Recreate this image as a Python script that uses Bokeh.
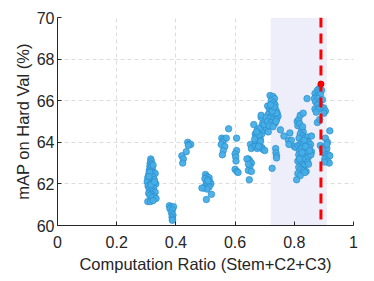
from bokeh.plotting import figure
from bokeh.models import FixedTicker, Range1d, BoxAnnotation, Span
from bokeh.embed import file_html
from bokeh.resources import INLINE

# ---- data ----
x_vals = [
    # cluster ~0.31
    0.315,0.317,0.313,0.318,0.312,0.316,0.320,0.310,0.314,0.325,0.330,0.308,0.318,0.322,0.305,
    0.313,0.327,0.309,0.316,0.303,0.320,0.332,0.311,0.306,0.318,0.325,0.310,0.315,0.322,0.330,
    0.308,0.318,0.312,0.326,0.320,0.333,0.305,0.314,0.323,0.318,0.312,0.323,0.316,0.309,0.328,
    # cluster ~0.385
    0.378,0.385,0.392,0.380,0.388,0.385,0.390,0.387,0.389,0.388,
    # cluster ~0.43
    0.440,0.445,0.450,0.442,0.435,0.420,0.425,0.423,
    # cluster ~0.505
    0.500,0.505,0.512,0.498,0.508,0.515,0.503,0.518,0.510,0.500,0.495,0.512,0.505,0.488,0.520,0.503,0.508,
    # cluster ~0.56
    0.578,0.555,0.562,0.570,0.558,0.553,0.565,0.560,0.557,
    # cluster ~0.605
    0.605,0.605,0.600,0.602,0.603,0.600,0.606,0.610,
    # cluster ~0.65
    0.645,0.650,0.655,0.640,0.650,0.645,0.655,0.648,0.645,0.652,0.660,0.663,0.655,
    # cluster ~0.68
    0.675,0.680,0.668,0.672,0.678,0.685,0.670,0.676,0.682,0.668,0.690,0.675,0.695,0.700,0.686,
    0.690,0.695,0.685,0.700,0.705,0.688,0.688,0.693,0.698,0.681,0.673,0.679,0.666,
    # cluster ~0.725
    0.718,0.728,0.733,0.722,0.730,0.735,0.710,0.716,0.725,0.738,0.720,0.730,0.742,0.712,0.724,
    0.735,0.745,0.705,0.718,0.730,0.740,0.710,0.722,0.734,0.715,0.728,0.712,0.740,0.726,0.732,
    0.720,0.738,0.725,
    # scattered ~0.74-0.79
    0.737,0.738,0.740,0.740,0.753,0.765,0.780,0.785,0.790,0.782,
    # cluster ~0.83
    0.810,0.815,0.820,0.830,0.812,0.818,0.825,0.830,0.820,0.828,0.835,0.816,0.845,0.858,0.800,
    0.805,0.812,0.820,0.826,0.832,0.840,0.848,0.855,0.818,0.825,0.835,0.842,0.850,0.858,0.815,
    0.822,0.830,0.838,0.848,0.856,0.812,0.820,0.828,0.835,0.845,0.815,0.822,0.832,0.840,0.812,
    0.820,0.808,0.836,0.848,0.843,0.826,0.833,0.818,0.852,0.828,0.838,
    # cluster ~0.88 high
    0.885,0.878,0.892,0.870,0.882,0.875,0.888,0.868,0.880,0.895,0.872,0.885,0.878,0.890,0.870,
    0.882,0.874,0.900,0.905,0.900,0.878,0.886,
    # cluster ~0.905 low
    0.905,0.912,0.920,0.888,0.898,0.905,0.910,0.900,0.915,0.908,0.920,0.903,0.912,0.918,0.902,
    0.895,0.910,
]
y_vals = [
    63.2,63.1,63.0,62.95,62.85,62.8,62.7,62.65,62.6,62.55,62.5,62.45,62.4,62.35,62.3,
    62.25,62.2,62.15,62.1,62.1,62.05,62.0,61.95,61.9,61.85,61.8,61.75,61.7,61.65,61.6,
    61.55,61.5,61.45,61.4,61.35,61.3,61.15,61.15,61.2,62.0,62.55,62.9,61.95,62.35,62.1,
    60.95,60.9,60.9,60.8,60.75,60.6,60.5,60.4,60.3,60.25,
    64.0,63.9,63.9,63.85,63.55,63.35,63.2,63.0,
    62.45,62.35,62.3,62.25,62.2,62.1,62.05,62.0,61.95,61.9,61.8,61.85,61.75,61.8,61.5,61.25,62.15,
    64.65,64.2,64.15,64.2,64.0,63.9,63.8,63.6,63.4,
    64.2,63.6,63.45,63.3,63.1,62.7,62.6,62.55,
    63.2,63.1,63.0,63.2,62.85,62.65,62.6,62.2,62.95,63.9,63.8,64.85,63.7,
    64.6,64.5,64.4,64.3,64.2,64.15,64.0,63.95,63.9,63.8,63.75,63.7,63.65,63.6,64.05,
    64.4,64.6,64.7,64.8,64.7,65.2,65.3,64.9,64.85,64.35,64.5,63.8,64.15,
    66.25,66.2,66.1,66.0,65.9,65.8,65.75,65.6,65.65,65.55,65.5,65.45,65.4,65.35,65.3,
    65.3,65.25,65.2,65.15,65.1,65.1,65.0,64.95,64.9,64.8,64.75,64.5,65.4,65.5,65.7,
    65.8,65.0,62.75,
    63.7,63.5,63.35,63.25,64.6,64.3,64.1,64.45,64.1,63.9,
    65.0,65.1,65.3,65.4,64.8,64.9,64.6,64.5,64.4,64.3,64.2,64.2,64.25,64.3,63.8,
    63.75,63.85,63.9,64.0,63.95,64.05,64.0,63.9,63.6,63.7,63.6,63.5,63.75,63.55,63.4,
    63.3,63.35,63.2,63.3,63.4,63.1,63.0,62.95,62.9,63.05,62.8,62.7,62.65,62.6,62.5,
    62.4,62.2,62.55,62.95,66.1,63.5,64.1,63.2,63.6,64.75,63.8,
    66.6,66.5,66.5,66.35,66.4,66.2,66.3,66.1,66.1,66.05,65.95,65.9,65.8,65.7,65.6,
    65.6,65.45,65.65,65.5,65.4,64.95,65.1,
    64.2,64.0,64.55,63.85,63.75,63.6,63.7,63.5,63.4,63.3,63.35,63.2,63.1,63.0,63.05,
    63.65,63.9,
]
best_x = [0.89]
best_y = [66.8]
band_left, band_right = 0.72, 0.91
vline_x = 0.89
x_ticks = [0, 0.2, 0.4, 0.6, 0.8, 1.0]
x_tick_labels = ["0", "0.2", "0.4", "0.6", "0.8", "1"]
y_ticks = [60, 62, 64, 66, 68, 70]

FONT = "Liberation Sans"
TXT = "#262626"

p = figure(width=368, height=278, output_backend="svg", toolbar_location=None,
           x_range=Range1d(0, 1), y_range=Range1d(60, 70),
           min_border_left=57, min_border_right=15, min_border_top=17, min_border_bottom=53)
p.outline_line_color = None
p.background_fill_color = "white"

# shaded band
p.add_layout(BoxAnnotation(left=band_left, right=band_right, fill_color="#EEEEFB",
                           fill_alpha=1.0, line_color=None, level="underlay"))

for ax in (p.xaxis[0], p.yaxis[0]):
    ax.axis_line_color = TXT
    ax.major_tick_line_color = TXT
    ax.major_tick_in = 4
    ax.major_tick_out = 0
    ax.minor_tick_line_color = None
    ax.major_label_text_font = FONT
    ax.major_label_text_font_size = "16px"
    ax.major_label_text_color = TXT
    ax.axis_label_text_font = FONT
    ax.axis_label_text_font_size = "16.5px"
    ax.axis_label_text_color = TXT
    ax.axis_label_text_font_style = "normal"

p.xaxis.ticker = FixedTicker(ticks=x_ticks)
p.xaxis.major_label_overrides = {t: l for t, l in zip(x_ticks, x_tick_labels)}
p.yaxis.ticker = FixedTicker(ticks=y_ticks)
p.xaxis.axis_label = "Computation Ratio (Stem+C2+C3)"
p.yaxis.axis_label = "mAP on Hard Val (%)"
p.xaxis.major_label_standoff = 10
p.yaxis.major_label_standoff = 3
p.xaxis.axis_label_standoff = 4
p.yaxis.axis_label_standoff = 2

for g in (p.xgrid[0], p.ygrid[0]):
    g.grid_line_color = "#dcdcdc"
    g.grid_line_dash = "4 3"
    g.grid_line_width = 1

p.scatter(x_vals, y_vals, size=6.5, fill_color="#47AEE6", line_color="#2A8CCD",
          line_width=0.7, fill_alpha=0.95)

p.add_layout(Span(location=vline_x, dimension="height", line_color="#FF0000",
                  line_width=3, line_dash="10 6"))
p.scatter(best_x, best_y, size=6, fill_color="#FF0000", line_color="#D00000")

open("out.html", "w").write(file_html(p, INLINE))
